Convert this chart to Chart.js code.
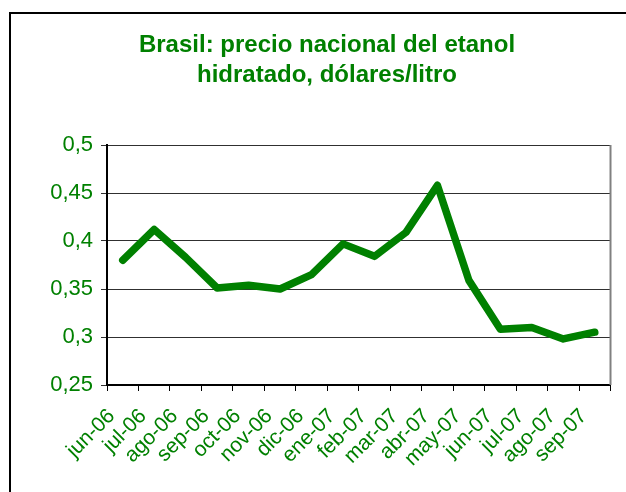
<!DOCTYPE html>
<html>
<head>
<meta charset="utf-8">
<script src="https://cdn.jsdelivr.net/npm/chart.js@4/dist/chart.umd.min.js"></script>
<style>
html,body{margin:0;padding:0;background:#fff;}
#wrap{width:626px;height:492px;position:relative;}
</style>
</head>
<body>
<div id="wrap"><canvas id="c" width="626" height="492"></canvas></div>
<script>
const categories = ["jun-06","jul-06","ago-06","sep-06","oct-06","nov-06","dic-06","ene-07","feb-07","mar-07","abr-07","may-07","jun-07","jul-07","ago-07","sep-07"];
const precio = [0.380, 0.412, 0.383, 0.351, 0.354, 0.350, 0.365, 0.397, 0.384, 0.409, 0.458, 0.359, 0.308, 0.310, 0.298, 0.305];
const titleLines = ["Brasil: precio nacional del etanol", "hidratado, dólares/litro"];
const yMin = 0.25, yMax = 0.5, yStep = 0.05;

const green = '#008000';
const fontFam = '"Liberation Sans", Arial, sans-serif';

const framePlugin = {
  id: 'frame',
  afterDraw(chart) {
    const ctx = chart.ctx;
    const a = chart.chartArea;
    ctx.save();
    ctx.strokeStyle = '#808080';
    ctx.lineWidth = 2;
    ctx.beginPath();
    ctx.moveTo(a.right, a.top);
    ctx.lineTo(a.right, a.bottom);
    ctx.stroke();
    ctx.strokeStyle = '#000';
    ctx.lineWidth = 2;
    ctx.beginPath();
    ctx.moveTo(10, 492);
    ctx.lineTo(10, 13);
    ctx.lineTo(626, 13);
    ctx.stroke();
    ctx.restore();
  }
};

new Chart(document.getElementById('c'), {
  type: 'line',
  data: {
    labels: categories,
    datasets: [{
      data: precio,
      borderColor: green,
      backgroundColor: green,
      borderWidth: 7.5,
      pointRadius: 0,
      tension: 0,
      borderCapStyle: 'round',
      borderJoinStyle: 'round',
      fill: false
    }]
  },
  options: {
    responsive: false,
    devicePixelRatio: 1,
    animation: false,
    layout: { padding: { left: 41, right: 13, top: 0, bottom: 0 } },
    plugins: {
      legend: { display: false },
      tooltip: { enabled: false },
      title: {
        display: true,
        text: titleLines,
        color: green,
        font: { family: fontFam, size: 24, weight: 'bold', lineHeight: 1.25 },
        padding: { top: 30, bottom: 55 }
      }
    },
    scales: {
      x: {
        type: 'category',
        offset: true,
        grid: { display: true, offset: true, drawOnChartArea: false, drawTicks: true, tickLength: 6, color: '#000', lineWidth: 1 },
        border: { display: true, color: '#000', width: 2 },
        ticks: {
          color: green,
          font: { family: fontFam, size: 21 },
          minRotation: 45,
          maxRotation: 45,
          autoSkip: false,
          padding: 13,
          labelOffset: -11
        },
        afterFit(scale) { scale.height = 107; }
      },
      y: {
        min: yMin,
        max: yMax,
        grid: { color: '#303030', lineWidth: 1, tickLength: 6, drawTicks: true },
        border: { display: true, color: '#000', width: 2 },
        ticks: {
          stepSize: yStep,
          color: green,
          font: { family: fontFam, size: 22 },
          padding: 8,
          callback(v) { return String(Number(v.toFixed(2))).replace('.', ','); }
        },
        afterFit(scale) { scale.width = 66; }
      }
    }
  },
  plugins: [framePlugin]
});
</script>
</body>
</html>
